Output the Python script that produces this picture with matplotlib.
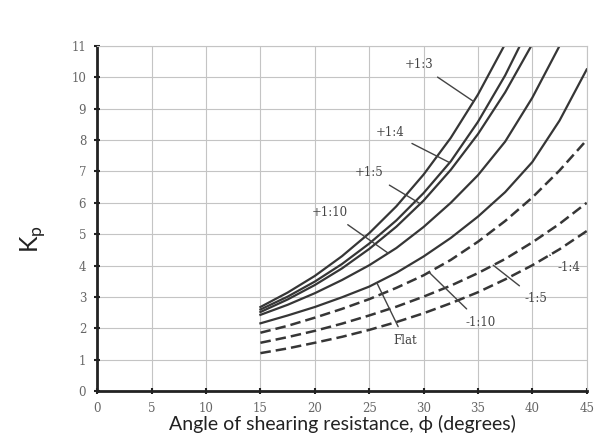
import matplotlib.pyplot as plt
import numpy as np

# angle of shearing resistance (deg)
phi = [15, 17.5, 20, 22.5, 25, 27.5, 30, 32.5, 35, 37.5, 40, 42.5, 45]

# Kp (values above 11 run off the top of the frame)
kp_p13 = [2.68, 3.14, 3.67, 4.30, 5.03, 5.89, 6.90, 8.07, 9.45, 11.06, 12.95, 15.2, 17.8]
kp_p14 = [2.60, 3.01, 3.49, 4.05, 4.70, 5.44, 6.31, 7.32, 8.58, 10.06, 11.8, 13.8, 16.2]
kp_p15 = [2.52, 2.92, 3.38, 3.91, 4.53, 5.24, 6.07, 7.05, 8.19, 9.52, 11.06, 12.9, 15.0]
kp_p110 = [2.43, 2.75, 3.12, 3.54, 4.01, 4.56, 5.23, 6.00, 6.88, 7.95, 9.35, 11.0, 12.9]
kp_flat = [2.16, 2.41, 2.68, 2.99, 3.33, 3.77, 4.29, 4.88, 5.56, 6.34, 7.30, 8.62, 10.25]
kp_m110 = [1.86, 2.08, 2.34, 2.62, 2.93, 3.29, 3.69, 4.18, 4.76, 5.42, 6.17, 7.03, 8.00]
kp_m15 = [1.54, 1.72, 1.92, 2.15, 2.41, 2.69, 3.01, 3.36, 3.76, 4.21, 4.74, 5.33, 6.00]
kp_m14 = [1.21, 1.36, 1.54, 1.73, 1.95, 2.20, 2.48, 2.80, 3.15, 3.56, 4.01, 4.52, 5.10]

series = [
    ("+1:3", kp_p13, "-"), ("+1:4", kp_p14, "-"), ("+1:5", kp_p15, "-"),
    ("+1:10", kp_p110, "-"), ("Flat", kp_flat, "-"),
    ("-1:10", kp_m110, "--"), ("-1:5", kp_m15, "--"), ("-1:4", kp_m14, "--"),
]

# label text position and angle where the pointer meets the curve
label_pos = {
    "+1:3": (29.6, 10.4, 34.6),
    "+1:4": (26.9, 8.25, 32.4),
    "+1:5": (25.0, 6.95, 29.7),
    "+1:10": (21.4, 5.7, 26.75),
    "Flat": (28.3, 1.6, 25.7),
    "-1:10": (35.2, 2.2, 30.5),
    "-1:5": (40.3, 2.95, 36.4),
    "-1:4": (43.4, 3.95, 41.6),
}

fig = plt.figure(figsize=(6.08, 4.37), dpi=100)
ax = fig.add_axes([0.16, 0.105, 0.805, 0.79])

line_col = "#363636"
for name, kp, ls in series:
    if ls == "--":
        ax.plot(phi, kp, color=line_col, lw=1.8, dashes=(4.2, 2.0))
    else:
        ax.plot(phi, kp, color=line_col, lw=1.6)
    lx, ly, px = label_pos[name]
    py = np.interp(px, phi, kp)
    ax.annotate(name, xy=(px, py), xytext=(lx, ly), fontsize=8.5, color="#444",
                ha="center", va="center", family="DejaVu Serif",
                arrowprops=dict(arrowstyle="-", color="#444", lw=1.0,
                                shrinkA=4, shrinkB=0))

ax.set_xlim(0, 45)
ax.set_ylim(0, 11)
ax.set_xticks(range(0, 46, 5))
ax.set_yticks(range(0, 12))
ax.grid(True, color="#c4c4c4", lw=0.8)
ax.set_axisbelow(True)

for s in ["top", "right"]:
    ax.spines[s].set_color("#c4c4c4")
    ax.spines[s].set_linewidth(0.8)
for s in ["left", "bottom"]:
    ax.spines[s].set_color("#222")
    ax.spines[s].set_linewidth(2.0)

ax.tick_params(direction="inout", length=4, width=1.5, color="#222",
               labelsize=8.5, labelcolor="#666", pad=6)
for lab in ax.get_xticklabels() + ax.get_yticklabels():
    lab.set_family("DejaVu Serif")

ax.set_xlabel("Angle of shearing resistance, \u03d5 (degrees)", fontsize=14,
              color="#222", labelpad=0, family="Lato")
ax.set_ylabel("K$_\\mathregular{p}$", fontsize=18, color="#222", family="Lato")
ax.yaxis.set_label_coords(-0.1, 0.44)

fig.savefig("out.png", dpi=100)
